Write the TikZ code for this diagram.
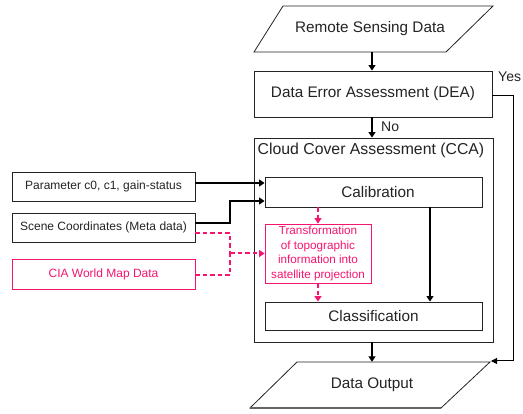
\documentclass[tikz,border=0pt]{standalone}
\usepackage{fontspec}
\setmainfont{Liberation Sans}
\usetikzlibrary{arrows.meta}
\definecolor{ink}{RGB}{35,35,35}
\definecolor{topo}{RGB}{245,20,110}
\tikzset{
  box/.style={draw=ink, line width=0.9pt, inner sep=0pt, text=ink, align=center},
  topobox/.style={draw=topo, line width=0.9pt, inner sep=0pt, text=topo, align=center},
  big/.style={font=\fontsize{15.3}{18}\selectfont},
  small/.style={font=\fontsize{12}{14}\selectfont},
  flow/.style={draw=black, line width=1.8pt, -{Triangle[length=5.5pt,width=7pt]}},
  thinflow/.style={draw=black, line width=1pt, -{Triangle[length=6pt,width=6pt]}},
  topoflow/.style={draw=topo, line width=2pt, dash pattern=on 4.5pt off 3pt, -{Triangle[length=5.5pt,width=7pt]}},
}
\begin{document}
\begin{tikzpicture}[x=1pt,y=-1pt]
\useasboundingbox (0,0) rectangle (523,414);

% input and output data (quadrilaterals)
\draw[ink, line width=0.8pt] (283,6) -- (493,6) -- (446,52) -- (254,52) -- cycle;
\node[big, text=ink, minimum width=192pt, minimum height=46pt, inner sep=0pt] (rsd) at (372,29) {\hspace{-4pt}Remote Sensing Data};
\draw[ink, line width=0.8pt] (297,362) -- (490,362) -- (441,408) -- (250,408) -- cycle;
\draw[ink!70, line width=1.6pt] (250,408) -- (441,408);
\node[big, text=ink, minimum width=192pt, minimum height=46pt, inner sep=0pt] (out) at (372,385) {Data Output};

% main processing boxes
\node[box, big, minimum width=238pt, minimum height=46pt] (dea) at (373,94) {Data Error Assessment (DEA)};
\node[box, minimum width=239pt, minimum height=204pt] (cca) at (373.5,240) {};
\node[text=ink, inner sep=0pt, font=\fontsize{15.8}{18}\selectfont] (ccatitle) at (371,150) {Cloud Cover Assessment (CCA)};
\node[box, big, minimum width=217pt, minimum height=30pt] (calib) at (373.5,192) {\hspace{9pt}Calibration};
\node[topobox, minimum width=106pt, minimum height=59pt,
      font=\fontsize{11.7}{14.5}\selectfont] (trans) at (318,253.5)
      {Transformation\\of topographic\\information into\\satellite projection};
\node[box, big, minimum width=217pt, minimum height=28pt] (class) at (373.5,316) {Classification};

% auxiliary inputs
\node[box, small, minimum width=183pt, minimum height=29pt] (param) at (103.5,186.5) {Parameter c0, c1, gain-status};
\node[box, small, minimum width=183pt, minimum height=29pt] (scene) at (103.5,227.5) {Scene Coordinates (Meta data)};
\node[topobox, small, minimum width=183pt, minimum height=30pt] (cia) at (103.5,274) {CIA World Map Data};

% labels
\node[text=ink, anchor=west, inner sep=0pt, font=\fontsize{14}{16}\selectfont] (yes) at (498,77) {Yes};
\node[text=ink, anchor=west, inner sep=0pt, font=\fontsize{14}{16}\selectfont] (no) at (381,127) {No};

% main flow
\draw[flow] (rsd.south) -- (rsd.south |- dea.north);
\draw[flow] (rsd.south |- dea.south) -- (rsd.south |- cca.north);
\draw[flow] (out.north |- cca.south) -- (out.north);
\coordinate (yesbend) at (513,361);
\coordinate (yesend) at (491,361);
\draw[thinflow] ([yshift=-2pt]dea.east) -| (yesbend) -- (yesend);
\draw[flow] ([xshift=56.5pt]calib.south) -- ([xshift=56.5pt]class.north);

% calibration inputs
\draw[flow] ([yshift=3.5pt]param.east) -- ([yshift=3.5pt]param.east -| calib.west);
\coordinate (scenebend) at (230,201);
\draw[flow] ([yshift=4.5pt]scene.east) -| (scenebend) -- (scenebend -| calib.west);

% topographic branch
\coordinate (tjoin) at (230,253.5);
\draw[topoflow, -] ([yshift=-5.5pt]scene.east) -| (tjoin);
\draw[topoflow, -] ([yshift=-1pt]cia.east) -| (tjoin);
\draw[topoflow] (tjoin) -- (trans.west);
\draw[topoflow] (trans.north |- calib.south) -- (trans.north);
\draw[topoflow] (trans.south) -- (trans.south |- class.north);
\end{tikzpicture}
\end{document}
